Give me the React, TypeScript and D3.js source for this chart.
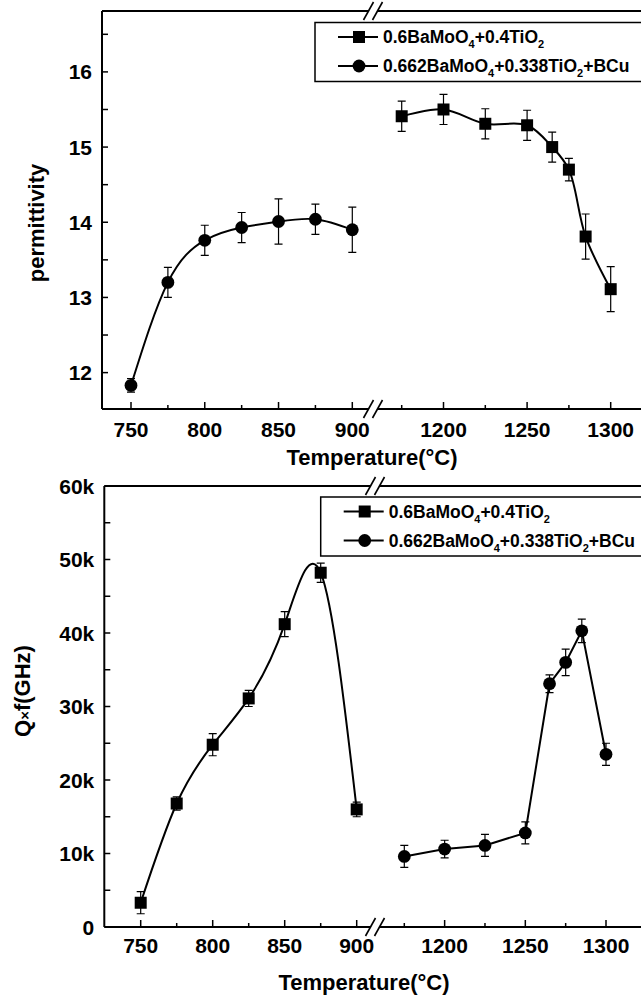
import React, { useEffect, useRef } from 'react';
import * as d3 from 'd3';

const permLowT = [750, 775, 800, 825, 850, 875, 900];
const permLowVal = [11.83, 13.2, 13.76, 13.93, 14.01, 14.04, 13.9];
const permLowErr = [0.09, 0.2, 0.2, 0.2, 0.3, 0.2, 0.3];

const permHighT = [1175, 1200, 1225, 1250, 1265, 1275, 1285, 1300];
const permHighVal = [15.41, 15.5, 15.31, 15.29, 15.0, 14.7, 13.81, 13.11];
const permHighErr = [0.2, 0.2, 0.2, 0.2, 0.2, 0.15, 0.3, 0.3];

const qfLowT = [750, 775, 800, 825, 850, 875, 900];
const qfLowVal = [3300, 16800, 24800, 31100, 41200, 48200, 16000];
const qfLowErr = [1500, 900, 1500, 1100, 1700, 1300, 1000];

const qfHighT = [1175, 1200, 1225, 1250, 1265, 1275, 1285, 1300];
const qfHighVal = [9600, 10600, 11100, 12800, 33100, 36000, 40300, 23500];
const qfHighErr = [1500, 1200, 1500, 1500, 1200, 1800, 1600, 1500];

const lowTicks = [750, 775, 800, 825, 850, 875, 900];
const highTicks = [1175, 1200, 1225, 1250, 1275, 1300];
const labelledTicks = [750, 800, 850, 900, 1200, 1250, 1300];
const permTicks = [12, 13, 14, 15, 16];
const permMinor = [12.5, 13.5, 14.5, 15.5, 16.5];
const qfTicks = [0, 10000, 20000, 30000, 40000, 50000, 60000];
const qfMinor = [5000, 15000, 25000, 35000, 45000, 55000];

const seriesNames = ['0.6BaMoO4+0.4TiO2', '0.662BaMoO4+0.338TiO2+BCu'];

const FONT = '"Liberation Sans", Arial, sans-serif';

type Series = {t: number[], v: number[], e: number[], marker: string, curve: any};

const drawMarkers = (g: any, marker: string, pts: number[][]) => {
  pts.forEach(([px, py]) => {
    if (marker === 'square') {
      g.append('rect').attr('x', px - 6).attr('y', py - 6).attr('width', 12).attr('height', 12)
        .attr('fill', '#000');
    } else {
      g.append('circle').attr('cx', px).attr('cy', py).attr('r', 6.4).attr('fill', '#000');
    }
  });
};

const drawPanel = (svg: any, cfg: any, low: Series, high: Series) => {
  const g = svg.append('g');
  const y = d3.scaleLinear().domain(cfg.yDomain).range([cfg.bottom, cfg.top]);
  const xl = d3.scaleLinear().domain([750, 900]).range(cfg.lowRange);
  const xh = d3.scaleLinear().domain([1175, 1300]).range(cfg.highRange);

  // frame with the axis break
  const gap = 4.5;
  [cfg.top, cfg.bottom].forEach((yy: number) => {
    g.append('line').attr('x1', cfg.left).attr('x2', cfg.brk - gap)
      .attr('y1', yy).attr('y2', yy).attr('stroke', '#000').attr('stroke-width', 2);
    g.append('line').attr('x1', cfg.brk + gap).attr('x2', cfg.right)
      .attr('y1', yy).attr('y2', yy).attr('stroke', '#000').attr('stroke-width', 2);
    [-gap, gap].forEach(dx => {
      g.append('line')
        .attr('x1', cfg.brk + dx - 5).attr('y1', yy + 9)
        .attr('x2', cfg.brk + dx + 5).attr('y2', yy - 9)
        .attr('stroke', '#000').attr('stroke-width', 1.6);
    });
  });
  g.append('line').attr('x1', cfg.left).attr('x2', cfg.left)
    .attr('y1', cfg.top).attr('y2', cfg.bottom).attr('stroke', '#000').attr('stroke-width', 2);

  // y ticks
  cfg.major.forEach((v: number) => {
    g.append('line').attr('x1', cfg.left).attr('x2', cfg.left + 6)
      .attr('y1', y(v)).attr('y2', y(v)).attr('stroke', '#000').attr('stroke-width', 1.5);
    g.append('text').attr('x', cfg.left - 10).attr('y', y(v)).attr('dy', '0.36em')
      .attr('text-anchor', 'end').attr('font-size', 21).attr('font-weight', 'bold')
      .attr('font-family', FONT).text(cfg.fmt(v));
  });
  cfg.minor.forEach((v: number) => {
    g.append('line').attr('x1', cfg.left).attr('x2', cfg.left + 6)
      .attr('y1', y(v)).attr('y2', y(v)).attr('stroke', '#000').attr('stroke-width', 1.5);
  });

  // x ticks on both segments
  const xt = [...lowTicks.map(t => [t, xl(t)]), ...highTicks.map(t => [t, xh(t)])];
  xt.forEach(([t, px]) => {
    const major = labelledTicks.includes(t);
    g.append('line').attr('x1', px).attr('x2', px)
      .attr('y1', cfg.bottom).attr('y2', cfg.bottom - (major ? 7 : 4))
      .attr('stroke', '#000').attr('stroke-width', 1.5);
    if (major) {
      g.append('text').attr('x', px).attr('y', cfg.bottom + cfg.tickDy)
        .attr('text-anchor', 'middle').attr('font-size', 21).attr('font-weight', 'bold')
        .attr('font-family', FONT).text(t);
    }
  });

  // titles
  g.append('text').attr('x', cfg.xTitle[0]).attr('y', cfg.xTitle[1])
    .attr('text-anchor', 'middle').attr('font-size', 22).attr('font-weight', 'bold')
    .attr('font-family', FONT).text('Temperature(°C)');
  const yt = g.append('text')
    .attr('transform', `translate(${cfg.yTitle[0]},${cfg.yTitle[1]}) rotate(-90)`)
    .attr('dy', '0.35em').attr('text-anchor', 'middle').attr('font-size', 22)
    .attr('font-weight', 'bold').attr('font-family', FONT);
  cfg.yTitleParts.forEach((p: any) => {
    yt.append('tspan').attr('font-size', p.small ? 15 : 22).text(p.s);
  });

  // data
  [[low, xl], [high, xh]].forEach(([s, x]: any) => {
    const pts = s.t.map((t: number, i: number) => [x(t), y(s.v[i])]);
    g.append('path').attr('d', d3.line().curve(s.curve)(pts))
      .attr('fill', 'none').attr('stroke', '#000').attr('stroke-width', 2);
    s.t.forEach((t: number, i: number) => {
      const px = x(t), y0 = y(s.v[i] - s.e[i]), y1 = y(s.v[i] + s.e[i]);
      g.append('path').attr('d', `M${px},${y0}V${y1}M${px - 4},${y0}H${px + 4}M${px - 4},${y1}H${px + 4}`)
        .attr('stroke', '#000').attr('stroke-width', 1.2).attr('fill', 'none');
    });
    drawMarkers(g, s.marker, pts);
  });

  // legend
  const lg = g.append('g').attr('transform', `translate(${cfg.legend[0]},${cfg.legend[1]})`);
  lg.append('rect').attr('x', 0).attr('y', 0).attr('width', 400).attr('height', 59)
    .attr('fill', '#fff').attr('stroke', '#000').attr('stroke-width', 1.5);
  seriesNames.forEach((name, i) => {
    const base = 20.5 + i * 29;
    const mid = base - 6;
    lg.append('line').attr('x1', 23).attr('x2', 63).attr('y1', mid).attr('y2', mid)
      .attr('stroke', '#000').attr('stroke-width', 2);
    drawMarkers(lg, i === 0 ? 'square' : 'circle', [[44, mid]]);
    const tx = lg.append('text').attr('x', 68).attr('y', base)
      .attr('font-size', 17.5).attr('font-weight', 'bold').attr('font-family', FONT);
    name.split(/(?<=O)(\d)/).forEach((part, k) => {
      if (k % 2 === 1) {
        tx.append('tspan').attr('font-size', 11).attr('dy', 5).text(part);
      } else if (part) {
        tx.append('tspan').attr('dy', k === 0 ? 0 : -5).text(part);
      }
    });
  });
};

const App = () => {
  const svgRef = useRef<SVGSVGElement>(null);

  useEffect(() => {
    const svg = d3.select(svgRef.current);
    svg.selectAll('*').remove();

    drawPanel(svg, {
      left: 102, right: 700, top: 11, bottom: 409, brk: 373,
      yDomain: [11.516, 16.81], lowRange: [131, 352.3], highRange: [401.7, 610.7],
      major: permTicks, minor: permMinor, fmt: (v: number) => String(v),
      tickDy: 28, xTitle: [372, 465], yTitle: [36.5, 223],
      yTitleParts: [{s: 'permittivity'}], legend: [315, 22.5],
    },
    {t: permLowT, v: permLowVal, e: permLowErr, marker: 'circle', curve: d3.curveNatural},
    {t: permHighT, v: permHighVal, e: permHighErr, marker: 'square', curve: d3.curveCatmullRom.alpha(0.5)});

    drawPanel(svg, {
      left: 104.3, right: 700, top: 486, bottom: 927, brk: 375,
      yDomain: [0, 60000], lowRange: [140.7, 356.7], highRange: [404.3, 606],
      major: qfTicks, minor: qfMinor, fmt: (v: number) => (v === 0 ? '0' : `${v / 1000}k`),
      tickDy: 26, xTitle: [364, 990], yTitle: [22, 691],
      yTitleParts: [{s: 'Q'}, {s: '×', small: true}, {s: 'f(GHz)'}], legend: [320.7, 497],
    },
    {t: qfLowT, v: qfLowVal, e: qfLowErr, marker: 'square', curve: d3.curveNatural},
    {t: qfHighT, v: qfHighVal, e: qfHighErr, marker: 'circle', curve: d3.curveLinear});
  }, []);

  return (
    <svg ref={svgRef} width={641} height={995}
      style={{position: 'absolute', left: 0, top: 0, background: '#fff'}} />
  );
};

export default App;
